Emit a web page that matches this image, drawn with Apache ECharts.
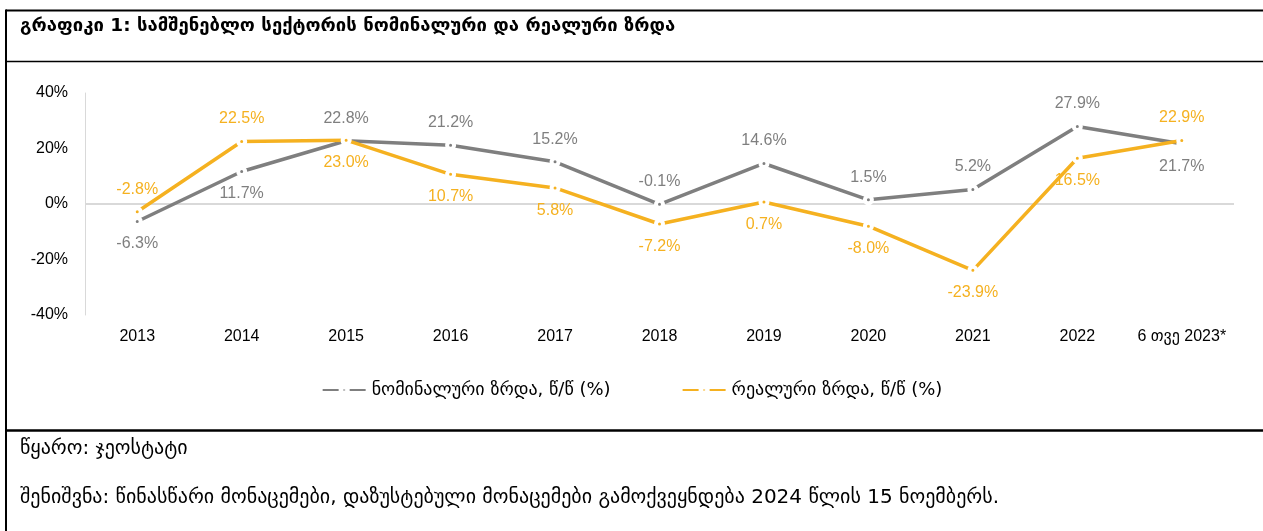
<!DOCTYPE html>
<html>
<head>
<meta charset="utf-8">
<script src="https://cdn.jsdelivr.net/npm/echarts@6/dist/echarts.min.js"></script>
<style>
html,body{margin:0;padding:0;background:#fff;}
#chart{width:1263px;height:531px;}
</style>
</head>
<body>
<div id="chart"></div>
<script>
const categories = ['2013','2014','2015','2016','2017','2018','2019','2020','2021','2022','6 თვე 2023*'];
const nominalGrowth = [-6.3, 11.7, 22.8, 21.2, 15.2, -0.1, 14.6, 1.5, 5.2, 27.9, 21.7];
const realGrowth = [-2.8, 22.5, 23.0, 10.7, 5.8, -7.2, 0.7, -8.0, -23.9, 16.5, 22.9];
const nominalLabelPos = ['bottom','bottom','top','top','top','top','top','top','top','top','bottom'];
const realLabelPos = ['top','top','bottom','bottom','bottom','bottom','bottom','bottom','bottom','bottom','top'];
const seriesNames = ['ნომინალური ზრდა, წ/წ (%)', 'რეალური ზრდა, წ/წ (%)'];
const titleText = 'გრაფიკი 1: სამშენებლო სექტორის ნომინალური და რეალური ზრდა';
const sourceText = 'წყარო: ჯეოსტატი';
const noteText = 'შენიშვნა: წინასწარი მონაცემები, დაზუსტებული მონაცემები გამოქვეყნდება 2024 წლის 15 ნოემბერს.';

const GRAY = '#7f7f7f';
const ORANGE = '#f5b120';
const FONT = '"Liberation Sans", Arial, "DejaVu Sans", sans-serif';
const GEO = '"DejaVu Sans", "Liberation Sans", sans-serif';

function buildData(vals, pos) {
  return vals.map((v, i) => ({
    value: v,
    label: { position: pos[i] }
  }));
}

const legendIcon = 'path://M0,0h18v4h-18z M20.5,0.5h4v3h-4z M27,0h18v4h-18z';

function makeSeries(name, vals, pos, color, z) {
  return {
    name: name,
    type: 'line',
    data: buildData(vals, pos),
    z: z,
    lineStyle: { color: color, width: 3.5 },
    itemStyle: { color: color, borderColor: '#ffffff', borderWidth: 4 },
    symbol: 'circle',
    symbolSize: 7,
    showSymbol: true,
    emphasis: { disabled: true },
    label: {
      show: true,
      color: color,
      fontFamily: FONT,
      fontSize: 16,
      distance: 9,
      formatter: p => p.value.toFixed(1) + '%'
    }
  };
}

const chart = echarts.init(document.getElementById('chart'), null, { renderer: 'canvas' });
const option = {
  animation: false,
  backgroundColor: '#ffffff',
  grid: { left: 85, right: 29, top: 93, bottom: 216 },
  legend: {
    data: seriesNames.map(n => ({ name: n, icon: legendIcon })),
    top: 376,
    left: 'center',
    itemWidth: 45,
    itemHeight: 5,
    itemGap: 70,
    textStyle: { fontFamily: GEO, fontSize: 18, color: '#000' },
    selectedMode: false
  },
  xAxis: {
    type: 'category',
    data: categories,
    boundaryGap: true,
    axisLine: { show: false, onZero: false },
    axisTick: { show: false },
    axisLabel: { color: '#000', fontFamily: FONT, fontSize: 16, margin: 14, interval: 0 },
    splitLine: { show: false }
  },
  yAxis: {
    type: 'value',
    min: -40, max: 40, interval: 20,
    axisLine: { show: true, lineStyle: { color: '#d9d9d9', width: 1 } },
    axisTick: { show: false },
    splitLine: { show: false },
    axisLabel: { color: '#000', fontFamily: FONT, fontSize: 16, margin: 17, formatter: '{value}%' }
  },
  series: [
    Object.assign(makeSeries(seriesNames[0], nominalGrowth, nominalLabelPos, GRAY, 3), {
      markLine: {
        silent: true,
        symbol: ['none', 'none'],
        label: { show: false },
        lineStyle: { color: '#d9d9d9', width: 2, type: 'solid' },
        data: [{ yAxis: 0 }],
        z: 1
      }
    }),
    makeSeries(seriesNames[1], realGrowth, realLabelPos, ORANGE, 4)
  ],
  graphic: [
    { type: 'line', shape: { x1: 6, y1: 10.5, x2: 1263, y2: 10.5 }, style: { stroke: '#000', lineWidth: 2 }, silent: true },
    { type: 'line', shape: { x1: 6, y1: 9.5, x2: 6, y2: 531 }, style: { stroke: '#000', lineWidth: 2 }, silent: true },
    { type: 'line', shape: { x1: 6, y1: 61.5, x2: 1263, y2: 61.5 }, style: { stroke: '#000', lineWidth: 1.5 }, silent: true },
    { type: 'line', shape: { x1: 6, y1: 430.5, x2: 1263, y2: 430.5 }, style: { stroke: '#000', lineWidth: 2.5 }, silent: true },
    { type: 'text', left: 20, top: 17, style: { text: titleText, font: 'bold 18.5px ' + GEO, fill: '#000' }, silent: true },
    { type: 'text', left: 20, top: 439, style: { text: sourceText, font: '20px ' + GEO, fill: '#000' }, silent: true },
    { type: 'text', left: 20, top: 488, style: { text: noteText, font: '20px ' + GEO, fill: '#000' }, silent: true }
  ]
};
chart.setOption(option);
</script>
</body>
</html>
